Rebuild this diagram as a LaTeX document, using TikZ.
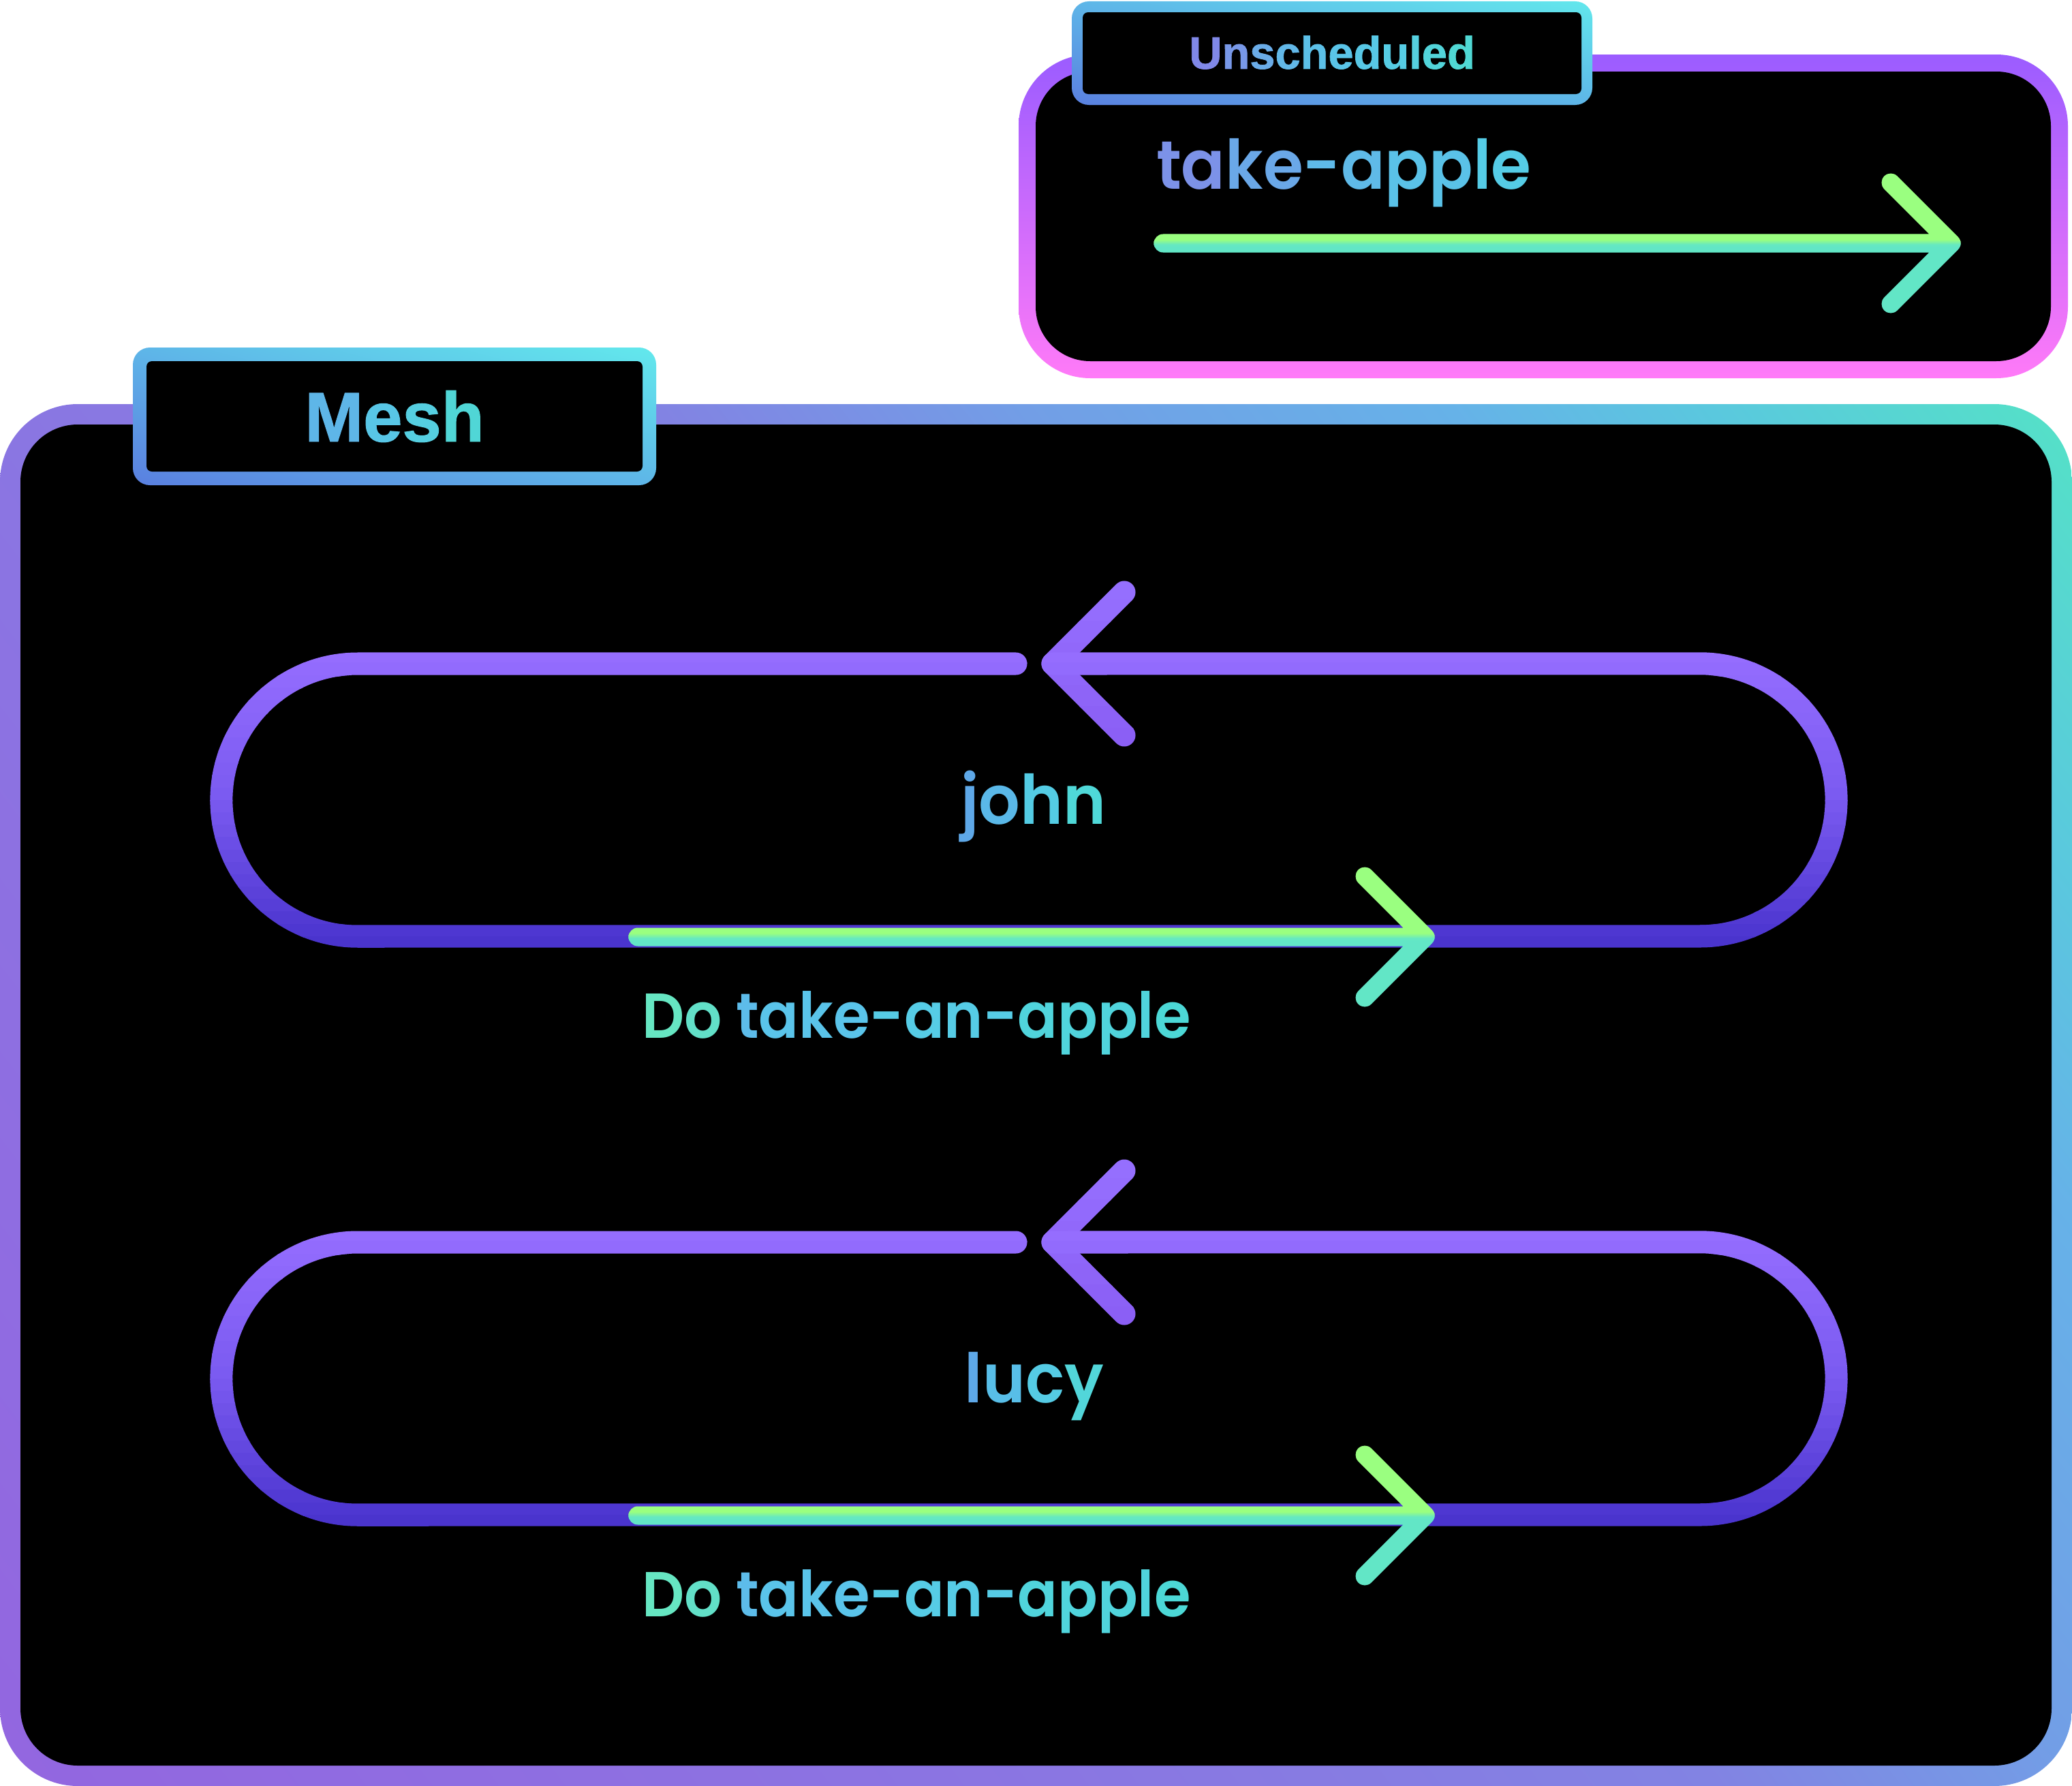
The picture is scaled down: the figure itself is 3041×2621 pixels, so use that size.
\documentclass[tikz,border=0pt]{standalone}
\usepackage{fontspec}
\newfontfamily\bodyfont{Poppins SemiBold}[FakeStretch=0.95]
\newfontfamily\dofont{Poppins SemiBold}[FakeStretch=0.93]
\newfontfamily\labelfont{Liberation Sans Bold}[FakeBold=1.2]
\definecolor{mA}{HTML}{9366E0}
\definecolor{mB}{HTML}{8A76E2}
\definecolor{mC}{HTML}{8283E3}
\definecolor{mD}{HTML}{729EE6}
\definecolor{mE}{HTML}{66B2E8}
\definecolor{mF}{HTML}{5AC8DE}
\definecolor{mG}{HTML}{54E2C6}
\definecolor{tbA}{HTML}{5A80E0}
\definecolor{tbB}{HTML}{5EB6E8}
\definecolor{tbC}{HTML}{62E8EC}
\definecolor{pA}{HTML}{9B5CFF}
\definecolor{pB}{HTML}{FF7AF8}
\definecolor{lA}{HTML}{966EFF}
\definecolor{lM}{HTML}{7A5AF0}
\definecolor{lB}{HTML}{4832CC}
\definecolor{cA}{HTML}{9670FF}
\definecolor{cB}{HTML}{8A5EF4}
\definecolor{gA}{HTML}{9AFF80}
\definecolor{gB}{HTML}{62E6C6}
\pgfdeclareverticalshading{meshgrad}{100bp}{color(0bp)=(mA); color(25.1bp)=(mA); color(42bp)=(mB); color(52.4bp)=(mC); color(58.2bp)=(mD); color(65bp)=(mE); color(69.1bp)=(mF); color(74.9bp)=(mG); color(100bp)=(mG)}
\pgfdeclareverticalshading{tabgradM}{100bp}{color(0bp)=(tbA); color(37.8bp)=(tbA); color(50bp)=(tbB); color(62.2bp)=(tbC); color(100bp)=(tbC)}
\pgfdeclareverticalshading{tabgradU}{100bp}{color(0bp)=(tbA); color(40.6bp)=(tbA); color(50bp)=(tbB); color(59.4bp)=(tbC); color(100bp)=(tbC)}
\newcommand\cl[2]{{\color[HTML]{#1}#2}}
% #1 style, #2 y top, #3 y bottom, #4 colour top, #5 colour bottom, #6 bands, #7 path
\newcommand\bandstroke[7]{%
  \foreach \k in {1,...,#6}{%
    \pgfmathsetmacro\ya{(#2)+((#3)-(#2))*(\k-1)/(#6)}%
    \pgfmathsetmacro\yb{(#2)+((#3)-(#2))*\k/(#6)}%
    \pgfmathsetmacro\pc{100*(\k-0.5)/(#6)}%
    \begin{scope}
      \clip (-50,\ya-0.6) rectangle (3100,\yb+0.6);
      \draw[#1, draw={#5!\pc!#4}] #7;
    \end{scope}}}
% green arrow: #1 start, #2 tip, #3 upper arm, #4 lower arm, #5 y centre
\newcommand\garrow[5]{%
  \begin{scope}\clip (-50,#5+3) rectangle (3100,#5+200);
    \draw[garrowline, draw=gB] (#1) -- (#2) (#3) -- (#2) -- (#4);\end{scope}
  \begin{scope}\clip (-50,#5-200) rectangle (3100,#5-3);
    \draw[garrowline, draw=gA] (#1) -- (#2) (#3) -- (#2) -- (#4);\end{scope}
  \bandstroke{garrowline}{#5-4}{#5+4}{gA}{gB}{8}{(#1) -- (#2) (#3) -- (#2) -- (#4)}}
\begin{document}
\begin{tikzpicture}[x=0.01cm,y=-0.01cm,
  loopline/.style={line width=9.39pt, line cap=round, line join=round},
  garrowline/.style={line width=7.68pt, line cap=round, line join=round},
  bodytext/.style={inner sep=0pt, outer sep=0pt, font={\bodyfont\fontsize{28.5pt}{30pt}\selectfont}},
  dotext/.style={inner sep=0pt, outer sep=0pt, font={\dofont\fontsize{26.5pt}{28pt}\selectfont}},
  labeltext/.style={inner sep=0pt, outer sep=0pt}]
\useasboundingbox (0,0) rectangle (3041,2621);
\fill[white] (0,0) rectangle (3041,2621);
% ---------- Mesh frame
\begin{scope}
  \clip[rounded corners=1.14cm] (0,593) rectangle (3041,2621);
  \shade[shading=meshgrad, shading angle=-52.4] (-309.5,-223) rectangle (3350.5,3437);
\end{scope}
\fill[black, rounded corners=0.84cm] (30,623) rectangle (3011,2591);
% ---------- Mesh tab
\begin{scope}
  \clip[rounded corners=0.25cm] (195,510) rectangle (963,712);
  \shade[shading=tabgradM, shading angle=-15] (179,211) rectangle (979,1011);
\end{scope}
\fill[black, rounded corners=0.08cm] (215,530) rectangle (943,692);
\node[labeltext, font={\labelfont\fontsize{29.3pt}{31pt}\selectfont}, anchor=center] (meshlabel) at (579,611)
  {\cl{5EB6E8}{M}\cl{58C6E6}{e}\cl{55CEE0}{s}\cl{50D6D6}{h}};
% ---------- Unscheduled box
\shade[top color=pA, bottom color=pB, rounded corners=1.05cm] (1495,80) rectangle (3035,555);
\fill[black, rounded corners=0.8cm] (1520,105) rectangle (3010,530);
\begin{scope}
  \clip[rounded corners=0.25cm] (1573,2) rectangle (2337,154);
  \shade[shading=tabgradU, shading angle=-11.3] (1555,-322) rectangle (2355,478);
\end{scope}
\fill[black, rounded corners=0.08cm] (1589,18) rectangle (2321,138);
\node[labeltext, font={\labelfont\fontsize{19pt}{21pt}\selectfont}, anchor=center] (unschedlabel) at (1955,77)
  {\cl{8088E8}{U}\cl{7898E8}{n}\cl{6AACE8}{s}\cl{62B8E8}{c}\cl{5CC0E8}{h}\cl{5AC4E8}{e}\cl{58C8E6}{d}\cl{56CCE4}{u}\cl{55D0E0}{l}\cl{52D4DA}{e}\cl{50D8D4}{d}};
\node[bodytext, anchor=base west] (takeapple) at (1697,277)
  {\cl{7C92E8}{ta}\cl{6AA8E8}{ke}\cl{5FBAE8}{-a}\cl{5AC2E8}{pp}\cl{55CCE6}{le}};
\coordinate (ta-s) at (1707,357);
\coordinate (ta-t) at (2864,357);
\coordinate (ta-u) at (2775,268);
\coordinate (ta-d) at (2775,446);
\garrow{ta-s}{ta-t}{ta-u}{ta-d}{357}
% ---------- loop john
\coordinate (j-gap) at (1491,974);
\coordinate (j-tl) at (525,974);
\coordinate (j-br) at (2495,1374);
\coordinate (j-tip) at (1545,974);
\coordinate (j-ua) at (1650,869);
\coordinate (j-la) at (1650,1079);
\bandstroke{loopline}{850}{1100}{cA}{cB}{8}{(j-ua) -- (j-tip) -- (j-la)}
\bandstroke{loopline}{955}{1175}{lA}{lM}{12}{(j-gap) -- (j-tl) arc[start angle=90,end angle=270,radius=2cm] -- (j-br) arc[start angle=-90,end angle=90,radius=2cm] -- (j-tip)}
\bandstroke{loopline}{1175}{1393}{lM}{lB}{12}{(j-gap) -- (j-tl) arc[start angle=90,end angle=270,radius=2cm] -- (j-br) arc[start angle=-90,end angle=90,radius=2cm] -- (j-tip)}
\node[bodytext, anchor=base] (john) at (1517,1209)
  {\cl{5EA8E8}{j}\cl{5AB8E8}{o}\cl{54CCE4}{h}\cl{4FD8D8}{n}};
\coordinate (ja-s) at (936,1375);
\coordinate (ja-t) at (2092,1375);
\coordinate (ja-u) at (2003,1286);
\coordinate (ja-d) at (2003,1464);
\garrow{ja-s}{ja-t}{ja-u}{ja-d}{1375}
\node[dotext, anchor=base west] (jdo) at (942,1523)
  {\cl{66E6C2}{D}\cl{62E0C8}{o} \cl{5DBCEA}{t}\cl{5AC4EA}{ake}\cl{56CCE6}{-an-}\cl{50D4DC}{appl}\cl{4CD8D6}{e}};
% ---------- loop lucy
\coordinate (l-gap) at (1491,1823);
\coordinate (l-tl) at (525,1823);
\coordinate (l-br) at (2495,2223);
\coordinate (l-tip) at (1545,1823);
\coordinate (l-ua) at (1650,1718);
\coordinate (l-la) at (1650,1928);
\bandstroke{loopline}{1699}{1949}{cA}{cB}{8}{(l-ua) -- (l-tip) -- (l-la)}
\bandstroke{loopline}{1804}{2024}{lA}{lM}{12}{(l-gap) -- (l-tl) arc[start angle=90,end angle=270,radius=2cm] -- (l-br) arc[start angle=-90,end angle=90,radius=2cm] -- (l-tip)}
\bandstroke{loopline}{2024}{2242}{lM}{lB}{12}{(l-gap) -- (l-tl) arc[start angle=90,end angle=270,radius=2cm] -- (l-br) arc[start angle=-90,end angle=90,radius=2cm] -- (l-tip)}
\node[bodytext, anchor=base] (lucy) at (1518,2058)
  {\cl{5EA8E8}{l}\cl{58BEE8}{u}\cl{55CBE4}{c}\cl{52D6DA}{y}};
\coordinate (la-s) at (936,2224);
\coordinate (la-t) at (2092,2224);
\coordinate (la-u) at (2003,2135);
\coordinate (la-d) at (2003,2313);
\garrow{la-s}{la-t}{la-u}{la-d}{2224}
\node[dotext, anchor=base west] (ldo) at (942,2372)
  {\cl{66E6C2}{D}\cl{62E0C8}{o} \cl{5DBCEA}{t}\cl{5AC4EA}{ake}\cl{56CCE6}{-an-}\cl{50D4DC}{appl}\cl{4CD8D6}{e}};
\end{tikzpicture}
\end{document}
